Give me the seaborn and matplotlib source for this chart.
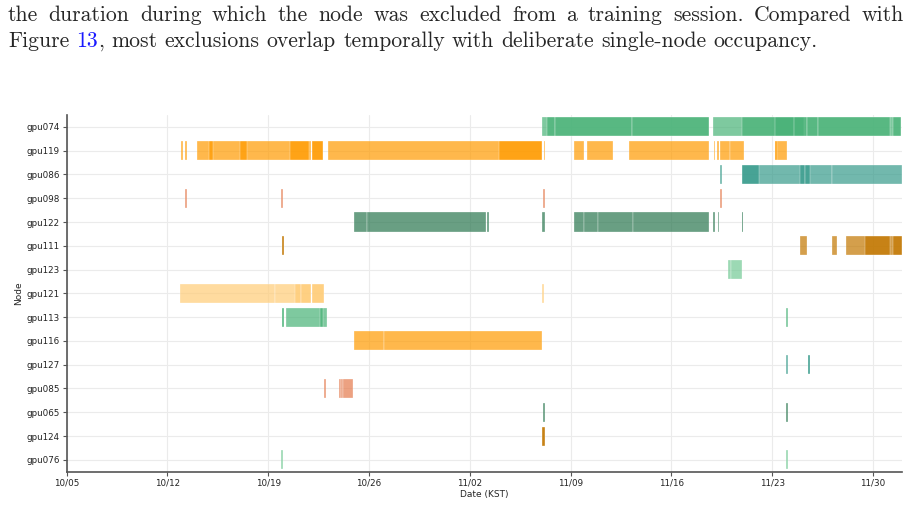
import matplotlib
matplotlib.use("Agg")
import matplotlib.pyplot as plt
import matplotlib.dates as mdates
import pandas as pd
import seaborn as sns

YEAR = 2024

nodes = ["gpu074", "gpu119", "gpu086", "gpu098", "gpu122", "gpu111", "gpu123", "gpu121",
         "gpu113", "gpu116", "gpu127", "gpu085", "gpu065", "gpu124", "gpu076"]
palette = ["#48b277", "#ff9b00", "#369b8b", "#e57a4c", "#2a764f", "#c27700", "#73c995", "#ffcc77"]

# exclusion intervals per node (MM-DD HH:MM, KST); overlapping intervals show darker
gpu074 = [("11-07 00:40", "11-18 14:10"), ("11-07 08:40", "11-07 22:50"), ("11-07 22:50", "11-13 06:20"),
          ("11-13 06:20", "11-18 14:10"), ("11-18 21:20", "12-01 22:00"), ("11-20 21:50", "11-24 11:50"),
          ("11-23 05:20", "11-25 04:30"), ("11-24 11:50", "11-25 10:10"), ("11-25 10:10", "11-26 04:30"),
          ("11-26 04:30", "12-01 05:10"), ("12-01 09:00", "12-01 22:00")]
gpu119 = [("10-12 23:00", "10-13 01:30"), ("10-13 05:50", "10-13 08:10"), ("10-14 01:20", "10-21 23:00"),
          ("10-14 21:20", "10-15 04:30"), ("10-17 01:00", "10-17 13:10"), ("10-20 12:30", "10-21 20:10"),
          ("10-22 01:40", "10-22 20:00"), ("10-22 01:40", "10-22 20:00"), ("10-23 03:20", "11-07 00:40"),
          ("11-04 00:30", "11-07 00:40"), ("11-07 03:00", "11-07 05:50"), ("11-09 06:30", "11-09 21:40"),
          ("11-10 03:20", "11-11 22:30"), ("11-13 01:50", "11-18 14:10"), ("11-18 22:20", "11-19 01:10"),
          ("11-19 04:00", "11-19 07:30"), ("11-19 09:30", "11-20 01:10"), ("11-20 01:10", "11-21 01:30"),
          ("11-23 05:20", "11-24 00:50"), ("11-23 05:20", "11-23 07:30")]
gpu086 = [("11-19 09:30", "11-19 12:30"), ("11-20 21:50", "11-27 03:50"), ("11-27 03:50", "12-01 23:50"),
          ("11-20 21:50", "11-22 01:30"), ("11-24 23:00", "11-25 06:00"), ("11-25 06:00", "11-25 14:20")]
gpu098 = [("10-13 05:00", "10-13 08:00"), ("10-19 22:00", "10-20 01:00"), ("11-07 02:40", "11-07 05:50"),
          ("11-19 09:30", "11-19 12:30")]
gpu122 = [("10-24 23:40", "10-25 21:20"), ("10-25 21:20", "11-03 03:20"), ("11-03 05:30", "11-03 08:10"),
          ("11-07 00:40", "11-07 05:20"), ("11-09 06:30", "11-09 21:40"), ("11-09 21:40", "11-10 22:30"),
          ("11-10 22:30", "11-13 07:20"), ("11-13 07:20", "11-18 14:10"), ("11-18 21:20", "11-19 01:10"),
          ("11-19 05:00", "11-19 08:00"), ("11-20 21:10", "11-20 23:50"), ("11-20 21:10", "11-20 23:50")]
gpu111 = [("10-19 23:40", "10-20 03:00"), ("10-19 23:40", "10-20 03:00"), ("11-24 23:00", "11-25 10:10"),
          ("11-27 03:10", "11-27 12:10"), ("11-28 03:50", "12-01 23:50"), ("11-29 11:30", "12-01 05:10"),
          ("12-01 09:00", "12-01 23:50")]
gpu123 = [("11-19 21:50", "11-20 03:20"), ("11-20 03:20", "11-20 21:50")]
gpu121 = [("10-12 21:00", "10-19 12:00"), ("10-19 12:00", "10-21 23:00"), ("10-20 21:20", "10-21 07:20"),
          ("10-21 07:20", "10-21 23:00"), ("10-22 01:40", "10-22 21:10"), ("10-22 01:40", "10-22 21:10"),
          ("11-07 01:00", "11-07 03:20")]
gpu113 = [("10-19 23:40", "10-20 03:00"), ("10-19 23:40", "10-20 03:00"), ("10-20 05:50", "10-23 01:40"),
          ("10-22 14:30", "10-22 20:00"), ("11-23 23:40", "11-24 02:30")]
gpu116 = [("10-24 23:40", "10-27 01:40"), ("10-27 01:40", "11-07 00:40")]
gpu127 = [("11-23 23:40", "11-24 02:30"), ("11-25 11:30", "11-25 14:20"), ("11-25 11:30", "11-25 14:20")]
gpu085 = [("10-22 21:40", "10-23 00:30"), ("10-23 22:30", "10-24 01:30"), ("10-24 01:30", "10-24 04:20"),
          ("10-24 04:20", "10-24 20:50")]
gpu065 = [("11-07 02:20", "11-07 05:50"), ("11-23 23:40", "11-24 02:30")]
gpu124 = [("11-07 00:40", "11-07 05:50"), ("11-07 00:40", "11-07 05:50")]
gpu076 = [("10-19 21:30", "10-20 00:50"), ("11-23 23:00", "11-24 01:50")]

intervals = {"gpu074": gpu074, "gpu119": gpu119, "gpu086": gpu086, "gpu098": gpu098, "gpu122": gpu122,
             "gpu111": gpu111, "gpu123": gpu123, "gpu121": gpu121, "gpu113": gpu113, "gpu116": gpu116,
             "gpu127": gpu127, "gpu085": gpu085, "gpu065": gpu065, "gpu124": gpu124, "gpu076": gpu076}

x_start, x_end = "10-05 00:00", "12-02 00:00"

line1 = "the duration during which the node was excluded from a training session.  Compared with"
line2 = ["Figure", "13,", "most", "exclusions", "overlap", "temporally", "with", "deliberate",
         "single-node", "occupancy."]


def to_num(s):
    return mdates.date2num(pd.Timestamp(f"{YEAR}-{s}"))


sns.set_theme(style="whitegrid", rc={"grid.color": "#ebebeb", "grid.linewidth": 0.8,
                                     "axes.edgecolor": "#555555", "axes.linewidth": 1.2})
plt.rcParams["font.family"] = ["DejaVu Sans"]

fig = plt.figure(figsize=(9.14, 5.07), dpi=100)
ax = fig.add_axes([66.7 / 914, 1 - 471.7 / 507, 835 / 914, (471.7 - 115) / 507])

for i, node in enumerate(nodes):
    col = palette[i % len(palette)]
    for s, e in intervals[node]:
        a, b = to_num(s), to_num(e)
        ax.barh(i, b - a, left=a, height=0.8, color=col, alpha=0.7,
                edgecolor=(1, 1, 1, 0.6), linewidth=0.3)

ax.set_yticks(range(len(nodes)))
ax.set_yticklabels(nodes)
ax.set_ylim(len(nodes) - 0.5, -0.5)
ax.set_xlim(to_num(x_start), to_num(x_end))
ticks = pd.date_range(f"{YEAR}-10-05", f"{YEAR}-11-30", freq="7D")
ax.set_xticks(mdates.date2num(ticks))
ax.xaxis.set_major_formatter(mdates.DateFormatter("%m/%d"))
ax.tick_params(axis="both", labelsize=6.3, length=3, width=0.8, color="#555555",
               labelcolor="#222222", pad=2, bottom=True, left=True)
ax.set_xlabel("Date (KST)", fontsize=6.5, labelpad=2)
ax.set_ylabel("Node", fontsize=6.5, labelpad=2)
sns.despine(ax=ax)
ax.grid(True, axis="both")

# paragraph text above the figure
serif = ["cmr10", "DejaVu Serif"]
fs = 15.6
r = fig.canvas.get_renderer()


def word_w(w):
    t = fig.text(0, 0, w, fontsize=fs, family=serif)
    width = t.get_window_extent(r).width
    t.remove()
    return width


words1 = line1.split()
w1 = [word_w(w) for w in words1]
gap1 = (904 - 8 - sum(w1)) / (len(words1) - 1)
x = 8
for w, wd in zip(words1, w1):
    fig.text(x / 914, 1 - 21 / 507, w, fontsize=fs, family=serif, va="baseline")
    x += wd + gap1

space = 0.333 * fs * 100 / 72
x = 8
for w in line2:
    if w == "13,":
        fig.text(x / 914, 1 - 47 / 507, "13", fontsize=fs, family=serif, va="baseline", color="#1a1aff")
        x += word_w("13")
        fig.text(x / 914, 1 - 47 / 507, ",", fontsize=fs, family=serif, va="baseline")
        x += word_w(",") + space
    else:
        fig.text(x / 914, 1 - 47 / 507, w, fontsize=fs, family=serif, va="baseline")
        x += word_w(w) + space

fig.savefig("out.png", dpi=100)
